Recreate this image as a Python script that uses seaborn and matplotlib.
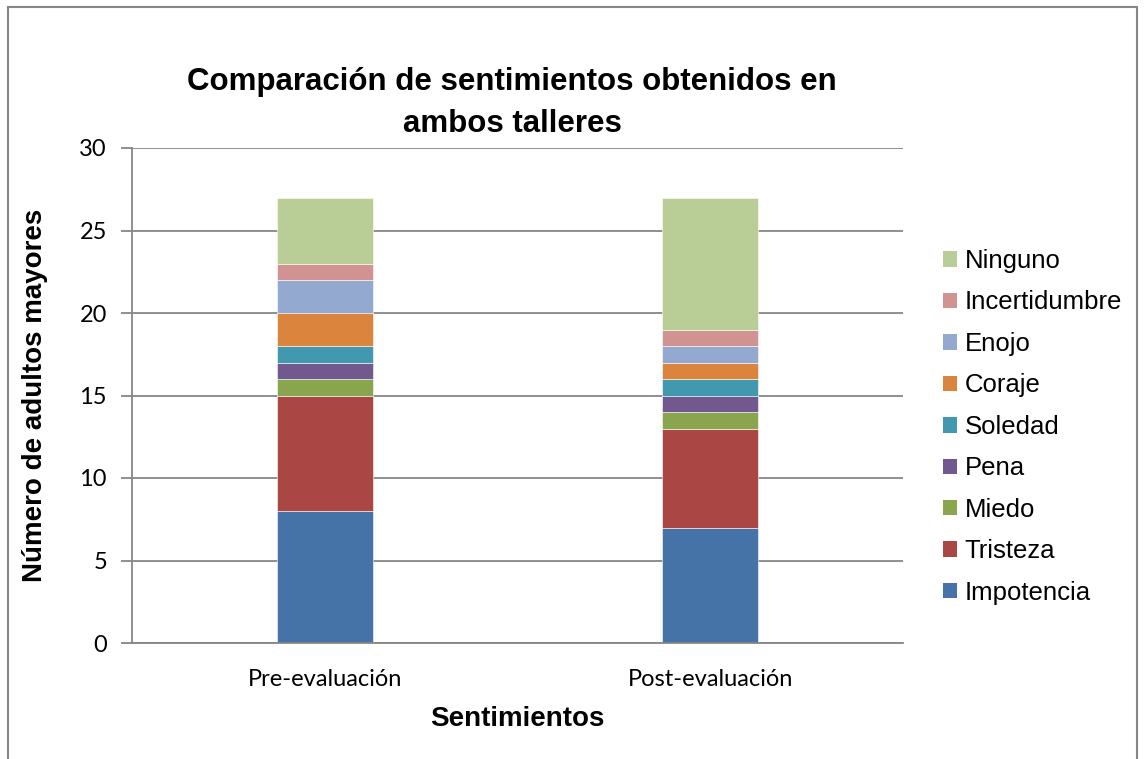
import matplotlib
matplotlib.use("Agg")
import matplotlib.pyplot as plt
import matplotlib.patches as mpatches
import seaborn as sns
import pandas as pd

categories = ["Pre-evaluación", "Post-evaluación"]
series = ["Impotencia", "Tristeza", "Miedo", "Pena", "Soledad", "Coraje", "Enojo", "Incertidumbre", "Ninguno"]
impotencia = [8, 7]
tristeza = [7, 6]
miedo = [1, 1]
pena = [1, 1]
soledad = [1, 1]
coraje = [2, 1]
enojo = [2, 1]
incertidumbre = [1, 1]
ninguno = [4, 8]
values = [impotencia, tristeza, miedo, pena, soledad, coraje, enojo, incertidumbre, ninguno]
colors = ["#4572A7", "#AA4643", "#89A54E", "#71588F", "#4198AF", "#DB843D", "#93A9CF", "#D19392", "#B9CD96"]
y_ticks = [0, 5, 10, 15, 20, 25, 30]

sns.set_theme(style="white")
plt.rcParams['font.family'] = ['Liberation Sans', 'DejaVu Sans']
plt.rcParams['text.color'] = 'black'
plt.rcParams['axes.labelcolor'] = 'black'

fig = plt.figure(figsize=(11.45, 7.59), dpi=100)
ax = fig.add_axes([132/1145, 1-643/759, (903-132)/1145, (643-148)/759])

rows = []
for s, v in zip(series, values):
    for c, val in zip(categories, v):
        rows.append({"cat": c, "serie": s, "val": val})
df = pd.DataFrame(rows)

bottoms = [0.0] * len(categories)
for s, col in zip(series, colors):
    sub = df[df.serie == s]
    sns.barplot(data=sub, x="cat", y="val", order=categories, color=col,
                width=0.25, bottom=bottoms, ax=ax, saturation=1,
                edgecolor="#ffffff", linewidth=0.4, errorbar=None)
    bottoms = [b + v for b, v in zip(bottoms, sub.val.tolist())]

ax.set_xlim(-0.5, 1.5)
ax.set_ylim(0, 30)
ax.set_yticks(y_ticks)
ax.yaxis.grid(True, color="#868686", linewidth=1.3)
ax.set_axisbelow(True)
for side in ["top", "right"]:
    ax.spines[side].set_visible(False)
for side in ["left", "bottom"]:
    ax.spines[side].set_color("#868686")
    ax.spines[side].set_linewidth(1.3)
ax.tick_params(axis="y", which="major", left=True, length=8, width=1.3, color="#868686",
               pad=10, labelsize=17, labelcolor="black")
ax.tick_params(axis="x", bottom=False, length=0, pad=19, labelsize=17, labelcolor="black")
for lab in ax.get_yticklabels() + ax.get_xticklabels():
    lab.set_fontfamily(['Lato', 'DejaVu Sans'])

ax.set_xlabel("Sentimientos", fontsize=20, fontweight="bold")
ax.set_ylabel("Número de adultos mayores", fontsize=20, fontweight="bold")
ax.xaxis.set_label_coords(0.5, (643-719)/495)
ax.xaxis.label.set_va("center")
ax.yaxis.set_label_coords((35-132)/771, 0.5)
ax.yaxis.label.set_va("center")
ax.yaxis.label.set_rotation_mode("anchor")

fig.text(512/1145, 1-103/759, "Comparación de sentimientos obtenidos en\nambos talleres",
         ha="center", va="center", fontsize=22.5, fontweight="bold", linespacing=1.55)

handles = [mpatches.Patch(facecolor=c, edgecolor="none", label=s) for s, c in zip(series, colors)]
handles = handles[::-1]
fig.legend(handles=handles, loc="upper left", bbox_to_anchor=(943/1145, 1-249/759),
           frameon=False, fontsize=18.5, labelspacing=0.68, handlelength=0.55, handleheight=0.55,
           handletextpad=0.3, borderaxespad=0, borderpad=0)

frame = mpatches.Rectangle((8/1145, -0.1), (1137-8)/1145, 1.1 - 7/759, transform=fig.transFigure,
                           fill=False, edgecolor="#868686", linewidth=1.5)
fig.patches.append(frame)

fig.savefig("out.png", dpi=100)
